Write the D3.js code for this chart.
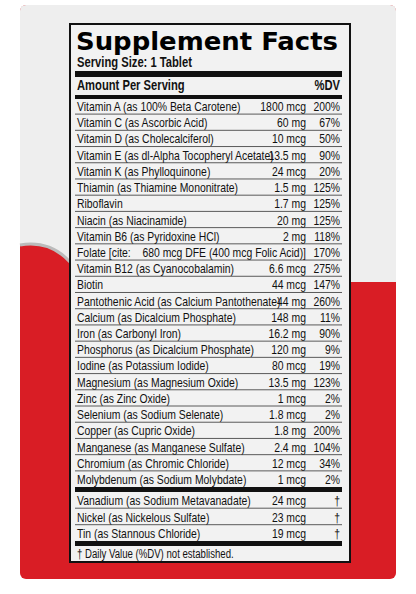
<!DOCTYPE html>
<html><head><meta charset="utf-8">
<script src="https://cdn.jsdelivr.net/npm/d3@7"></script>
<style>body{margin:0;background:#fff}svg{display:block}</style>
</head><body>
<svg id="c" width="416" height="594"></svg>
<script>
// label rows
var names=["Vitamin A (as 100% Beta Carotene)","Vitamin C (as Ascorbic Acid)","Vitamin D (as Cholecalciferol)","Vitamin E (as dl-Alpha Tocopheryl Acetate)","Vitamin K (as Phylloquinone)","Thiamin (as Thiamine Mononitrate)","Riboflavin","Niacin (as Niacinamide)","Vitamin B6 (as Pyridoxine HCl)","Folate [cite:","Vitamin B12 (as Cyanocobalamin)","Biotin","Pantothenic Acid (as Calcium Pantothenate)","Calcium (as Dicalcium Phosphate)","Iron (as Carbonyl Iron)","Phosphorus (as Dicalcium Phosphate)","Iodine (as Potassium Iodide)","Magnesium (as Magnesium Oxide)","Zinc (as Zinc Oxide)","Selenium (as Sodium Selenate)","Copper (as Cupric Oxide)","Manganese (as Manganese Sulfate)","Chromium (as Chromic Chloride)","Molybdenum (as Sodium Molybdate)"];
var amounts=["1800 mcg","60 mg","10 mcg","13.5 mg","24 mcg","1.5 mg","1.7 mg","20 mg","2 mg","680 mcg DFE (400 mcg Folic Acid)]","6.6 mcg","44 mcg","44 mg","148 mg","16.2 mg","120 mg","80 mcg","13.5 mg","1 mcg","1.8 mcg","1.8 mg","2.4 mg","12 mcg","1 mcg"];
var dvs=["200%","67%","50%","90%","20%","125%","125%","125%","118%","170%","275%","147%","260%","11%","90%","9%","19%","123%","2%","2%","200%","104%","34%","2%"];
var extraNames=["Vanadium (as Sodium Metavanadate)","Nickel (as Nickelous Sulfate)","Tin (as Stannous Chloride)"];
var extraAmounts=["24 mcg","23 mcg","19 mcg"];

var svg=d3.select("#c");
var F="'Liberation Sans',Arial,sans-serif";
// package
svg.append("rect").attr("x",20).attr("y",5).attr("width",376).attr("height",574).attr("rx",6).attr("fill","#d91d25");
svg.append("path").attr("d","M26,5 H390 Q396,5 396,11 V282 H350 V240 H70 V262 Q50,240 20,245 V11 Q20,5 26,5Z").attr("fill","#eeeeee");
svg.append("path").attr("d","M20,245 Q50,240 70,262").attr("fill","none").attr("stroke","#bbb").attr("stroke-width",3);

var L=70,R=350,T=24,B=562,xl=77,xa=306,xd=340;
svg.append("rect").attr("x",L).attr("y",T).attr("width",R-L).attr("height",B-T).attr("fill","#f2f2f2").attr("stroke","#111").attr("stroke-width",2);

// condensed text: squeeze the natural width
function txt(x,yy,s,opt){
  opt=opt||{};
  var t=svg.append("text").attr("x",x).attr("y",yy).attr("font-family",F)
    .attr("font-size",opt.size||13).attr("font-weight",opt.bold?"bold":null)
    .attr("text-anchor",opt.anchor||"start").attr("fill","#111").text(s);
  var w=t.node().getComputedTextLength();
  t.attr("textLength",w*(opt.sq||0.8)).attr("lengthAdjust","spacingAndGlyphs");
  return t;
}
svg.append("text").attr("x",xl-1).attr("y",50).attr("font-family","'DejaVu Sans',sans-serif").attr("font-weight",900).attr("font-size",25).attr("textLength",262).attr("lengthAdjust","spacingAndGlyphs").text("Supplement Facts");
txt(xl,67,"Serving Size: 1 Tablet",{bold:true,size:14});
function bar(y,h){svg.append("rect").attr("x",xl-2).attr("y",y).attr("width",xd-xl+4).attr("height",h).attr("fill","#111");}
bar(71,6);
txt(xl,90,"Amount Per Serving",{bold:true,size:14});
txt(xd,90,"%DV",{bold:true,size:14,anchor:"end"});
bar(95,4);

var y=d3.scaleLinear().domain([0,23]).range([106,479]);
names.forEach(function(n,i){
  var cy=y(i);
  txt(xl,cy+5,n);
  txt(xa,cy+5,amounts[i],{anchor:"end"});
  txt(xd,cy+5,dvs[i],{anchor:"end"});
  if(i<23) svg.append("line").attr("x1",xl-2).attr("x2",xd+2).attr("y1",cy+8.1).attr("y2",cy+8.1).attr("stroke","#333").attr("stroke-width",0.8);
});
bar(487,5);
var y2=d3.scaleLinear().domain([0,2]).range([500,533]);
extraNames.forEach(function(n,i){
  var cy=y2(i);
  txt(xl,cy+5,n);
  txt(xa,cy+5,extraAmounts[i],{anchor:"end"});
  txt(xd,cy+5,"†",{anchor:"end"});
  if(i<2) svg.append("line").attr("x1",xl-2).attr("x2",xd+2).attr("y1",cy+8.2).attr("y2",cy+8.2).attr("stroke","#333").attr("stroke-width",0.8);
});
bar(541,5);
txt(xl,558,"† Daily Value (%DV) not established.",{size:12});
</script>
</body></html>
